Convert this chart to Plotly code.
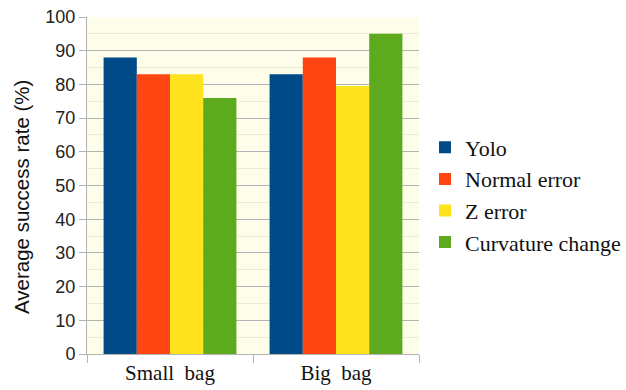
import plotly.graph_objects as go

categories = ["Small  bag", "Big  bag"]
series_names = ["Yolo", "Normal error", "Z error", "Curvature change"]
yolo = [88, 83]
normal_error = [83, 88]
z_error = [83, 79.5]
curvature_change = [76, 95]
y_ticks = list(range(0, 101, 10))

colors = ["#004a87", "#ff4612", "#ffe31e", "#5eaa1f"]
values = [yolo, normal_error, z_error, curvature_change]

fig = go.Figure()
for name, vals, c in zip(series_names, values, colors):
    fig.add_trace(go.Bar(x=categories, y=vals, name=name, marker=dict(color=c, line=dict(width=0))))

fig.update_layout(
    width=626, height=390,
    margin=dict(l=87, r=207, t=17, b=36),
    barmode="group", bargap=0.2, bargroupgap=0,
    paper_bgcolor="white", plot_bgcolor="#fdfdea",
    legend=dict(xref="container", yref="container", x=1.0, y=0.5, xanchor="right", yanchor="middle",
                font=dict(family="Liberation Serif", size=22, color="#111"),
                itemwidth=30, traceorder="normal", bgcolor="rgba(0,0,0,0)"),
    showlegend=True,
    annotations=[dict(text="Average success rate (%)", textangle=-90, showarrow=False,
                      xref="paper", yref="paper", x=0, y=0.466, xanchor="center", yanchor="middle",
                      xshift=-65, font=dict(family="Liberation Sans", size=20.5, color="#111"))],
)
fig.update_xaxes(
    automargin=False,
    showgrid=False, tickson="boundaries", ticks="outside", ticklen=8, tickcolor="#b3b3b3",
    showline=True, linecolor="#b3b3b3", linewidth=1,
    tickfont=dict(family="Liberation Serif", size=21, color="#111"),
)
fig.update_yaxes(
    automargin=False,
    range=[0, 100], tickvals=y_ticks, ticks="outside", ticklen=7, tickcolor="#b3b3b3",
    showgrid=True, gridcolor="#b3b3b3", gridwidth=1,
    minor=dict(dtick=5, showgrid=True, gridcolor="#ececd4", gridwidth=1),
    showline=True, linecolor="#b3b3b3", zeroline=False,
    tickfont=dict(family="Liberation Sans", size=18, color="#222"),
)
fig.write_html("out.html", config={"displayModeBar": False},
               post_script="document.body.style.margin='0px';")
